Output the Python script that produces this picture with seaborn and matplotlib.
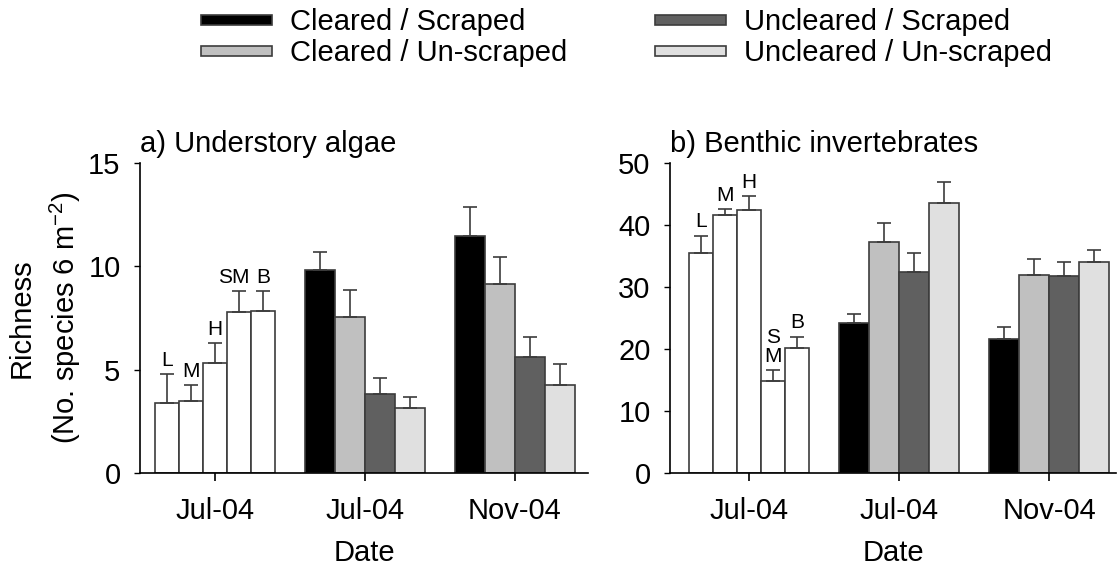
import numpy as np
import pandas as pd
import matplotlib
matplotlib.use("Agg")
import matplotlib.pyplot as plt
import seaborn as sns
from matplotlib.patches import Patch

# Data (means and upper SE)
dates = ["Jul-04", "Jul-04", "Nov-04"]
treatments = ["Cleared / Scraped", "Cleared / Un-scraped",
              "Uncleared / Scraped", "Uncleared / Un-scraped"]
trt_colors = ["#000000", "#c0c0c0", "#606060", "#e0e0e0"]

base_labels_a = ["L", "M", "H", "SM", "B"]
base_labels_b = ["L", "M", "H", "S\nM", "B"]

algae_base = [3.4, 3.5, 5.3, 7.8, 7.85]
algae_base_se = [1.4, 0.75, 1.0, 1.0, 0.95]
algae_jul = [9.8, 7.55, 3.8, 3.15]
algae_jul_se = [0.9, 1.3, 0.82, 0.55]
algae_nov = [11.45, 9.13, 5.63, 4.28]
algae_nov_se = [1.42, 1.33, 0.93, 1.0]

inv_base = [35.45, 41.6, 42.4, 14.9, 20.2]
inv_base_se = [2.85, 1.0, 2.2, 1.65, 1.8]
inv_jul = [24.25, 37.2, 32.5, 43.5]
inv_jul_se = [1.35, 3.2, 3.05, 3.4]
inv_nov = [21.55, 32.0, 31.7, 34.0]
inv_nov_se = [2.05, 2.45, 2.4, 1.95]

sns.set_style("ticks")
plt.rcParams["font.family"] = ["Liberation Sans", "DejaVu Sans"]
plt.rcParams["mathtext.fontset"] = "custom"
plt.rcParams["mathtext.rm"] = "Liberation Sans"
plt.rcParams["mathtext.it"] = "Liberation Sans"
for key in ["text.color", "axes.labelcolor", "xtick.color", "ytick.color"]:
    plt.rcParams[key] = "black"

EDGE = "#3c3c3c"
FS = 21


def draw_panel(ax, base, base_se, labels, jul, jul_se, nov, nov_se, ymax, title):
    # baseline survey (white bars)
    df_base = pd.DataFrame({"x": [0] * len(base), "site": labels, "val": base})
    n0 = len(ax.containers)
    sns.barplot(data=df_base, x="x", y="val", hue="site", native_scale=True,
                palette={s: "white" for s in labels}, saturation=1, width=0.8,
                edgecolor=EDGE, linewidth=1.2, errorbar=None, legend=False, ax=ax)
    base_bars = [c[0] for c in ax.containers[n0:]]

    # treatment bars
    df_trt = pd.DataFrame({
        "x": [1] * len(jul) + [2] * len(nov),
        "trt": treatments + treatments,
        "val": jul + nov,
    })
    n1 = len(ax.containers)
    sns.barplot(data=df_trt, x="x", y="val", hue="trt", hue_order=treatments,
                native_scale=True, palette=dict(zip(treatments, trt_colors)),
                saturation=1, width=0.8, edgecolor=EDGE, linewidth=1.2,
                errorbar=None, legend=False, ax=ax)
    trt_conts = ax.containers[n1:]

    xs, ys, es = [], [], []
    for b, v, e in zip(base_bars, base, base_se):
        xs.append(b.get_x() + b.get_width() / 2); ys.append(v); es.append(e)
    for i, cont in enumerate(trt_conts):
        for b, v, e in zip(cont, [jul[i], nov[i]], [jul_se[i], nov_se[i]]):
            xs.append(b.get_x() + b.get_width() / 2); ys.append(v); es.append(e)
    ax.errorbar(xs, ys, yerr=[np.zeros(len(es)), es], fmt="none", ecolor=EDGE,
                elinewidth=1.2, capsize=5, capthick=1.2, zorder=3)

    for b, v, e, lab in zip(base_bars, base, base_se, labels):
        dx = -4 if lab == "SM" else 0
        ax.annotate(lab, (b.get_x() + b.get_width() / 2, v + e), xytext=(dx, 3),
                    textcoords="offset points", ha="center", va="bottom",
                    fontsize=15, linespacing=1.0)

    ax.set_ylim(0, ymax)
    ax.set_xticks([0, 1, 2])
    ax.set_xticklabels(dates)
    ax.set_xlabel("Date", fontsize=FS, labelpad=10)
    ax.tick_params(axis="x", length=6, width=1.2, labelsize=FS, pad=11)
    ax.tick_params(axis="y", length=4, width=1, labelsize=FS, pad=10)
    for sp in ["top", "right"]:
        ax.spines[sp].set_visible(False)
    for sp in ["left", "bottom"]:
        ax.spines[sp].set_linewidth(1.2)
        ax.spines[sp].set_color("black")
    ax.text(0, 1.035, title, transform=ax.transAxes, ha="left", va="baseline",
            fontsize=FS)


fig = plt.figure(figsize=(11.18, 5.65), dpi=100)
ax1 = fig.add_axes([0.1252, 0.1628, 0.4011, 0.5487])
ax2 = fig.add_axes([0.5993, 0.1628, 0.3990, 0.5487])

draw_panel(ax1, algae_base, algae_base_se, base_labels_a, algae_jul, algae_jul_se,
           algae_nov, algae_nov_se, 15, "a) Understory algae")
ax1.set_yticks([0, 5, 10, 15])
ax1.set_xlim(-0.5, 2.49)
ax1.set_ylabel("Richness\n(No. species 6 m$^{-2}$)", fontsize=FS, linespacing=1.45)
ax1.yaxis.set_label_coords(-0.127, 0.5)

draw_panel(ax2, inv_base, inv_base_se, base_labels_b, inv_jul, inv_jul_se,
           inv_nov, inv_nov_se, 50, "b) Benthic invertebrates")
ax2.set_yticks([0, 10, 20, 30, 40, 50])
ax2.set_xlim(-0.527, 2.447)
ax2.set_ylabel("")

handles = [Patch(facecolor=c, edgecolor=EDGE, linewidth=1.2) for c in trt_colors]
fig.legend(handles, treatments, ncol=2, loc="upper left",
           bbox_to_anchor=(0.18, 0.985), frameon=False, fontsize=FS,
           handlelength=2.43, handleheight=0.15, handletextpad=0.62,
           columnspacing=3.0, labelspacing=0.1, borderpad=0, borderaxespad=0)

fig.savefig("out.png", dpi=100)
